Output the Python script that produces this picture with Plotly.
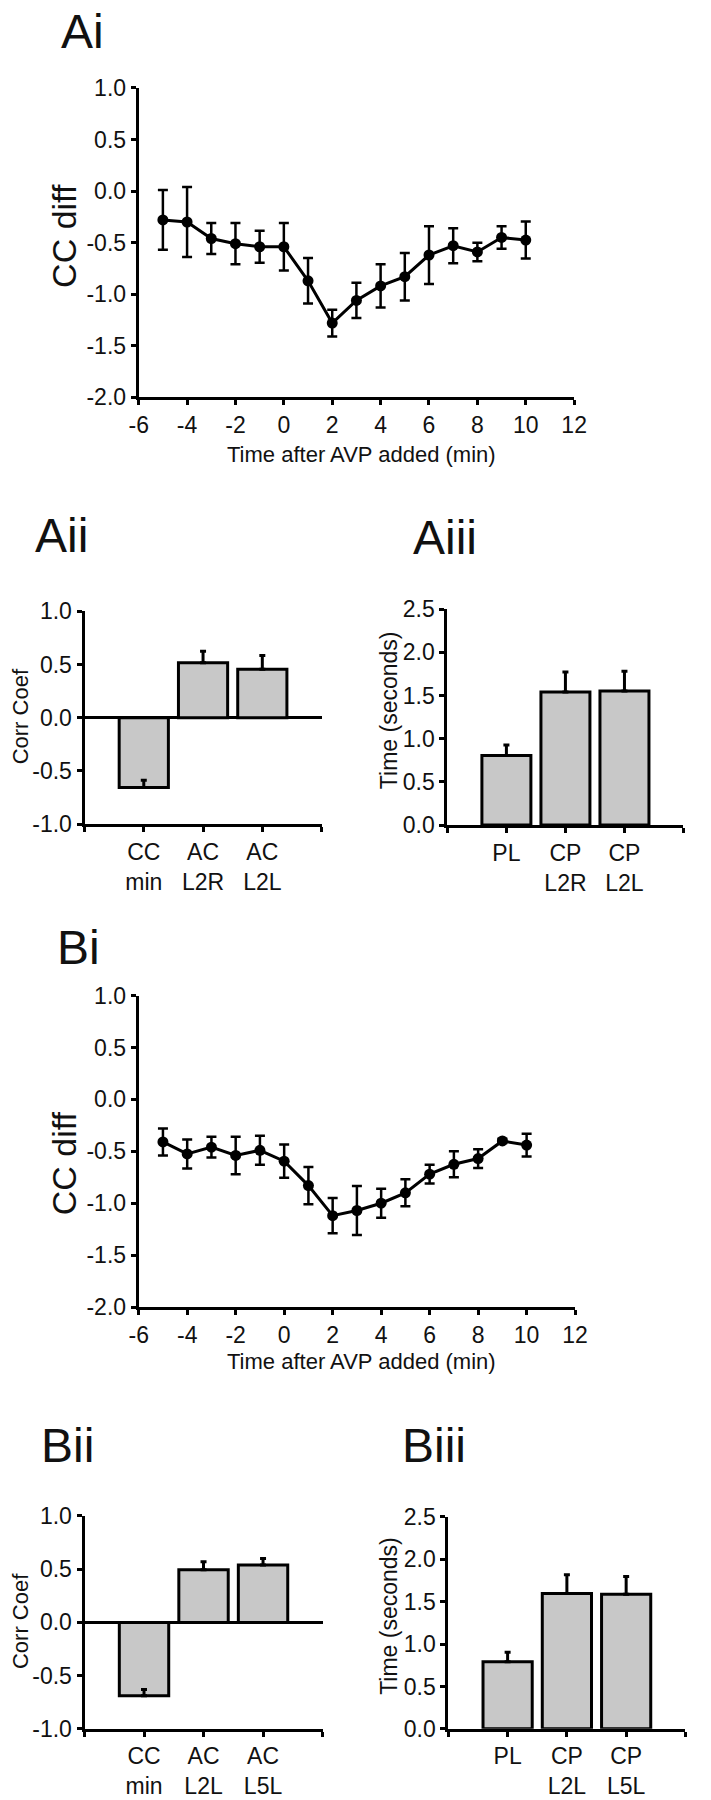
import plotly.graph_objects as go

# ---------------- data ----------------
time_min = [-5, -4, -3, -2, -1, 0, 1, 2, 3, 4, 5, 6, 7, 8, 9, 10]
ai_mean = [-0.28, -0.30, -0.46, -0.51, -0.54, -0.54, -0.87, -1.28, -1.06, -0.92, -0.83, -0.62, -0.53, -0.59, -0.45, -0.475]
ai_err = [0.29, 0.34, 0.15, 0.20, 0.155, 0.23, 0.22, 0.13, 0.17, 0.21, 0.23, 0.28, 0.17, 0.09, 0.11, 0.18]
bi_mean = [-0.41, -0.525, -0.46, -0.54, -0.49, -0.595, -0.83, -1.12, -1.07, -1.00, -0.90, -0.72, -0.625, -0.57, -0.40, -0.44]
bi_err = [0.13, 0.14, 0.10, 0.18, 0.14, 0.16, 0.18, 0.17, 0.235, 0.14, 0.13, 0.09, 0.125, 0.09, 0.02, 0.11]

aii_cats = ["CC<br>min", "AC<br>L2R", "AC<br>L2L"]
aii_vals = [-0.657, 0.515, 0.454]
aii_err = [0.07, 0.108, 0.13]

aiii_cats = ["PL", "CP<br>L2R", "CP<br>L2L"]
aiii_vals = [0.807, 1.542, 1.553]
aiii_err = [0.12, 0.23, 0.23]

bii_cats = ["CC<br>min", "AC<br>L2L", "AC<br>L5L"]
bii_vals = [-0.69, 0.494, 0.54]
bii_err = [0.06, 0.077, 0.06]

biii_cats = ["PL", "CP<br>L2L", "CP<br>L5L"]
biii_vals = [0.793, 1.598, 1.587]
biii_err = [0.11, 0.22, 0.21]

time_ticks = [-6, -4, -2, 0, 2, 4, 6, 8, 10, 12]
time_ticktext = ["-6", "-4", "-2", "0", "2", "4", "6", "8", "10", "12"]
cc_ticks = [-2.0, -1.5, -1.0, -0.5, 0.0, 0.5, 1.0]
cc_ticktext = ["-2.0", "-1.5", "-1.0", "-0.5", "0.0", "0.5", "1.0"]
corr_ticks = [-1.0, -0.5, 0.0, 0.5, 1.0]
corr_ticktext = ["-1.0", "-0.5", "0.0", "0.5", "1.0"]
sec_ticks = [0.0, 0.5, 1.0, 1.5, 2.0, 2.5]
sec_ticktext = ["0.0", "0.5", "1.0", "1.5", "2.0", "2.5"]

x_title = "Time after AVP added (min)"
cc_title = "CC diff"
corr_title = "Corr Coef"
sec_title = "Time (seconds)"

# ---------------- layout helpers ----------------
W, H = 711, 1800
FONT = "Liberation Sans, Arial, sans-serif"
BAR_FILL = "rgb(200,200,200)"


def xd(a, b):
    return [a / W, b / W]


def yd(top, bottom):
    return [1 - bottom / H, 1 - top / H]


def px_x(v):
    return v / W


def px_y(v):
    return 1 - v / H


fig = go.Figure()

axis_common = dict(
    showline=True, linecolor="black", linewidth=3,
    ticks="outside", ticklen=5, tickwidth=2.5, tickcolor="black",
    showgrid=False, zeroline=False,
    tickfont=dict(family=FONT, size=23, color="#111"),
    fixedrange=True,
)


def line_panel(n, mean, err, xdom, ydom):
    fig.add_trace(go.Scatter(
        x=time_min, y=mean, mode="lines+markers",
        line=dict(color="black", width=3),
        marker=dict(color="black", size=11, symbol="circle"),
        error_y=dict(type="data", array=err, visible=True, color="black",
                     thickness=2.5, width=5),
        xaxis=f"x{n}", yaxis=f"y{n}", showlegend=False,
    ))
    fig.layout[f"xaxis{n}"] = dict(axis_common, domain=xdom, anchor=f"y{n}",
                                   range=[-6, 12], tickvals=time_ticks,
                                   ticktext=time_ticktext)
    fig.layout[f"yaxis{n}"] = dict(axis_common, domain=ydom, anchor=f"x{n}",
                                   range=[-2, 1], tickvals=cc_ticks,
                                   ticktext=cc_ticktext)


def bar_panel(n, cats, vals, err, xdom, ydom, yrange, yticks, yticktext, zero):
    pos = list(range(1, len(cats) + 1))
    fig.add_trace(go.Bar(
        x=pos, y=vals, width=0.83,
        marker=dict(color=BAR_FILL, line=dict(color="black", width=3)),
        error_y=dict(type="data", symmetric=False, array=err,
                     arrayminus=[0] * len(err), visible=True, color="black",
                     thickness=3, width=3),
        xaxis=f"x{n}", yaxis=f"y{n}", showlegend=False,
    ))
    fig.layout[f"xaxis{n}"] = dict(axis_common, domain=xdom, anchor=f"y{n}",
                                   range=[0, len(cats) + 1],
                                   tickvals=[0] + pos + [len(cats) + 1],
                                   ticktext=[""] + cats + [""])
    fig.layout[f"yaxis{n}"] = dict(axis_common, domain=ydom, anchor=f"x{n}",
                                   range=yrange, tickvals=yticks,
                                   ticktext=yticktext,
                                   zeroline=zero, zerolinecolor="black",
                                   zerolinewidth=3)


line_panel("", ai_mean, ai_err, xd(133, 583), yd(76, 390))
bar_panel(2, aii_cats, aii_vals, aii_err, xd(77, 322), yd(607, 823),
          [-1, 1], corr_ticks, corr_ticktext, True)
bar_panel(3, aiii_cats, aiii_vals, aiii_err, xd(452, 696), yd(605, 824),
          [0, 2.5], sec_ticks, sec_ticktext, False)
line_panel(4, bi_mean, bi_err, xd(133, 584), yd(997, 1313))
bar_panel(5, bii_cats, bii_vals, bii_err, xd(77, 323), yd(1525, 1741),
          [-1, 1], corr_ticks, corr_ticktext, True)
bar_panel(6, biii_cats, biii_vals, biii_err, xd(453, 698), yd(1526, 1741),
          [0, 2.5], sec_ticks, sec_ticktext, False)

annotations = []


def label(text, x, y_center):
    annotations.append(dict(text=text, x=px_x(x), y=px_y(y_center),
                            xref="paper", yref="paper", xanchor="left",
                            yanchor="middle", showarrow=False,
                            font=dict(family=FONT, size=48, color="#111")))


def vtitle(text, x, y, size):
    annotations.append(dict(text=text, x=px_x(x), y=px_y(y), xref="paper",
                            yref="paper", xanchor="center", yanchor="middle",
                            textangle=-90, showarrow=False,
                            font=dict(family=FONT, size=size, color="#111")))


def htitle(text, x, y, size):
    annotations.append(dict(text=text, x=px_x(x), y=px_y(y), xref="paper",
                            yref="paper", xanchor="center", yanchor="middle",
                            showarrow=False,
                            font=dict(family=FONT, size=size, color="#111")))


label("Ai", 51, 19)
label("Aii", 24, 530)
label("Aiii", 414, 532)
label("Bi", 46, 948)
label("Bii", 30, 1454)
label("Biii", 403, 1454)

vtitle(cc_title, 56, 226, 34)
vtitle(cc_title, 56, 1167, 34)
vtitle(corr_title, 11, 714, 22)
vtitle(corr_title, 11, 1632, 22)
vtitle(sec_title, 391, 707, 23)
vtitle(sec_title, 391, 1626, 23)
htitle(x_title, 363, 448, 22)
htitle(x_title, 363, 1368, 22)

fig.update_layout(
    width=W, height=H, autosize=False,
    margin=dict(l=0, r=0, t=0, b=0),
    paper_bgcolor="white", plot_bgcolor="white",
    annotations=annotations,
    font=dict(family=FONT, color="#111"),
)

fig.write_html("out.html",
               config={"displayModeBar": False},
               post_script="document.body.style.margin='0';")
